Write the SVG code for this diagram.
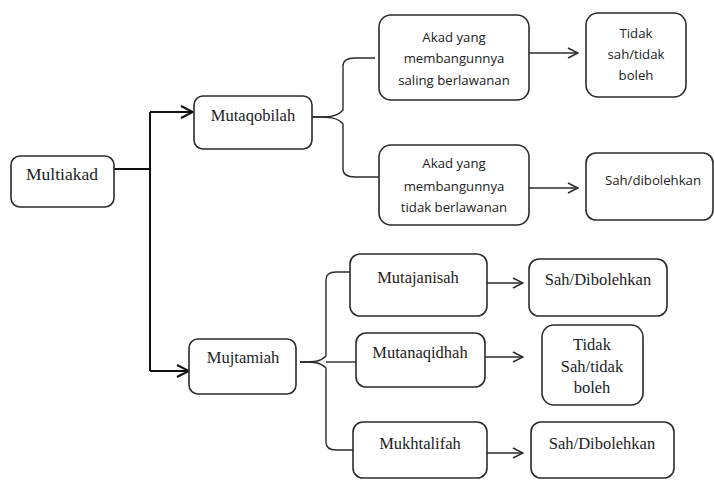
<svg xmlns="http://www.w3.org/2000/svg" width="714" height="480" viewBox="0 0 714 480">
<defs>
<style>
.box{fill:#fff;stroke:#2b2b2b;stroke-width:1.6}
.ln{fill:none;stroke:#2b2b2b;stroke-width:1.4}
.thk{fill:none;stroke:#111;stroke-width:2}
.s{font-family:"Liberation Serif","Times New Roman",serif;font-size:16.5px;fill:#222;text-anchor:middle}
.c{font-family:"Open Sans","Liberation Sans",sans-serif;font-size:13.2px;fill:#222;text-anchor:middle}
</style>
<marker id="ah" viewBox="0 0 12 12" refX="11" refY="6" markerWidth="12" markerHeight="12" markerUnits="userSpaceOnUse" orient="auto">
<polyline points="1,1 11,6 1,11" fill="none" stroke="#2b2b2b" stroke-width="1.5"/>
</marker>
<marker id="ahk" viewBox="0 0 14 14" refX="13" refY="7" markerWidth="14" markerHeight="14" markerUnits="userSpaceOnUse" orient="auto">
<polyline points="1,1 13,7 1,13" fill="none" stroke="#111" stroke-width="2"/>
</marker>
</defs>
<rect width="714" height="480" fill="#fff"/>
<g id="connectors">
<path class="thk" d="M114,169 H150 M150,112 V371"/>
<path class="thk" d="M150,112 H193" marker-end="url(#ahk)"/>
<path class="thk" d="M150,371 H189" marker-end="url(#ahk)"/>
<path class="ln" d="M312,117 C330,117 337,117 343,110 V66 Q343,58 355,58 H375"/>
<path class="ln" d="M312,117 C330,117 337,117 343,124 V169 Q343,177 355,177 H379"/>
<path class="ln" d="M529,53 H578" marker-end="url(#ah)"/>
<path class="ln" d="M529,188 H578" marker-end="url(#ah)"/>
<path class="ln" d="M300,362 C315,362 320,362 326,356 V280 Q326,272 336,272 H350"/>
<path class="ln" d="M300,362 C315,362 320,362 326,368 V442 Q326,450 336,450 H353"/>
<path class="ln" d="M326,362 H356"/>
<path class="ln" d="M487,283 H523" marker-end="url(#ah)"/>
<path class="ln" d="M485,357 H523" marker-end="url(#ah)"/>
<path class="ln" d="M487,453 H523" marker-end="url(#ah)"/>
</g>
<g id="multiakad"><rect class="box" x="11" y="156" width="103" height="51" rx="9"/><text class="s" x="62" y="180" style="font-size:17.5px">Multiakad</text></g>
<g id="mutaqobilah"><rect class="box" x="194" y="96" width="118" height="53" rx="9"/><text class="s" x="253" y="121">Mutaqobilah</text></g>
<g id="akad1"><rect class="box" x="379" y="15" width="150" height="85" rx="12"/>
<text class="c" x="454" y="42">Akad yang</text><text class="c" x="454" y="63">membangunnya</text><text class="c" x="454" y="85">saling berlawanan</text></g>
<g id="tidaksah1"><rect class="box" x="586" y="13" width="100" height="84" rx="12"/>
<text class="c" x="636" y="38">Tidak</text><text class="c" x="636" y="59">sah/tidak</text><text class="c" x="636" y="80">boleh</text></g>
<g id="akad2"><rect class="box" x="379" y="145" width="150" height="80" rx="12"/>
<text class="c" x="454" y="168">Akad yang</text><text class="c" x="454" y="191">membangunnya</text><text class="c" x="454" y="212">tidak berlawanan</text></g>
<g id="sah1"><rect class="box" x="586" y="153" width="127" height="67" rx="10"/><text class="c" x="653" y="185">Sah/dibolehkan</text></g>
<g id="mujtamiah"><rect class="box" x="189" y="339" width="107" height="55" rx="9"/><text class="s" x="243" y="363">Mujtamiah</text></g>
<g id="mutajanisah"><rect class="box" x="350" y="254" width="137" height="62" rx="10"/><text class="s" x="418" y="283">Mutajanisah</text></g>
<g id="mutanaqidhah"><rect class="box" x="356" y="333" width="129" height="54" rx="10"/><text class="s" x="420" y="358">Mutanaqidhah</text></g>
<g id="mukhtalifah"><rect class="box" x="353" y="422" width="134" height="56" rx="10"/><text class="s" x="420" y="449">Mukhtalifah</text></g>
<g id="sah2"><rect class="box" x="529" y="259" width="138" height="57" rx="10"/><text class="s" x="598" y="285">Sah/Dibolehkan</text></g>
<g id="tidaksah2"><rect class="box" x="542" y="325" width="101" height="80" rx="12"/>
<text class="s" x="592" y="350">Tidak</text><text class="s" x="592" y="372">Sah/tidak</text><text class="s" x="592" y="393">boleh</text></g>
<g id="sah3"><rect class="box" x="531" y="422" width="143" height="56" rx="10"/><text class="s" x="602" y="449">Sah/Dibolehkan</text></g>
</svg>
